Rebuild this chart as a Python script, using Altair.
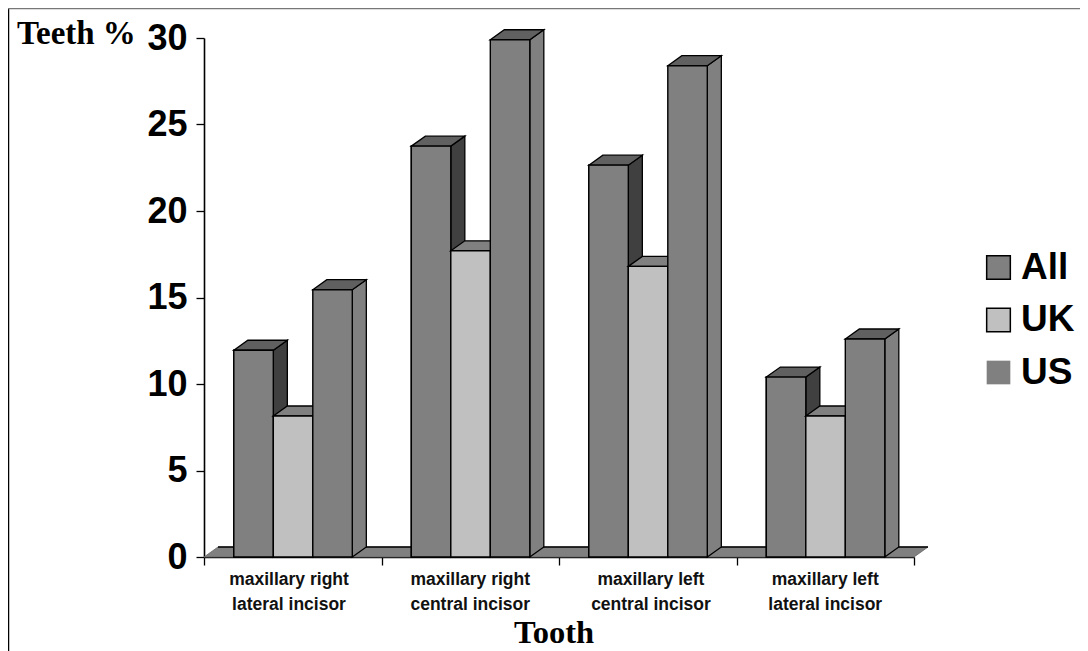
import altair as alt
import pandas as pd

categories = [
    "maxillary right\nlateral incisor",
    "maxillary right\ncentral incisor",
    "maxillary left\ncentral incisor",
    "maxillary left\nlateral incisor",
]
label_positions = [0.479, 1.5, 2.518, 3.5]
series = ["All", "UK", "US"]
all_values = [11.95, 23.75, 22.65, 10.4]
uk_values = [8.15, 17.7, 16.8, 8.15]
us_values = [15.45, 29.9, 28.4, 12.6]
values = {"All": all_values, "UK": uk_values, "US": us_values}
y_ticks = [0, 5, 10, 15, 20, 25, 30]
x_ticks = [0, 1, 2, 3, 4]

front_colors = {"All": "#808080", "UK": "#c0c0c0", "US": "#808080"}
top_colors = {"All": "#606060", "UK": "#808080", "US": "#606060"}
side_colors = {"All": "#404040", "UK": "#606060", "US": "#808080"}

GROUP_GAP = 0.168
BAR_W = 0.2225
DX = 0.079
DY = 0.578

bars, sides, tops = [], [], []
for si, s in enumerate(series):
    for g, v in enumerate(values[s]):
        x0 = g + GROUP_GAP + si * BAR_W
        x1 = x0 + BAR_W
        bars.append(dict(series=s, group=g, x0=x0, x1=x1, v=v, base=0))
        sides += [
            dict(series=s, group=g, x=x1, y=v, y2=0),
            dict(series=s, group=g, x=x1 + DX, y=v + DY, y2=DY),
        ]
        tops += [
            dict(series=s, group=g, x=x0, y=v, y2=v),
            dict(series=s, group=g, x=x0 + DX, y=v + DY, y2=v),
            dict(series=s, group=g, x=x1, y=v + DY, y2=v),
            dict(series=s, group=g, x=x1 + DX, y=v + DY, y2=v + DY),
        ]
bars, sides, tops = pd.DataFrame(bars), pd.DataFrame(sides), pd.DataFrame(tops)

floor = pd.DataFrame(
    [
        dict(x=0, y=0, y2=0),
        dict(x=DX, y=DY, y2=0),
        dict(x=4, y=DY, y2=0),
        dict(x=4 + DX, y=DY, y2=DY),
    ]
)
floor_edge = pd.DataFrame([dict(x0=DX, x1=4 + DX, y=DY)])
labels = pd.DataFrame(dict(x=label_positions, label=categories))

FONT = "Liberation Sans"
SERIF = "Liberation Serif"
x_scale = alt.Scale(domain=[0, 4], range=[0, 710], nice=False, clamp=False)
y_scale = alt.Scale(domain=[0, 30], nice=False, clamp=False)

x_axis = alt.Axis(
    values=x_ticks, labels=False, title=None, grid=False, tickColor="black", domainColor="black",
    tickSize=8, tickWidth=1.3, domainWidth=1.6,
)
y_axis = alt.Axis(
    values=y_ticks, title=None, grid=False, tickColor="black", domainColor="black", tickSize=8,
    tickWidth=1.3, domainWidth=1.6, labelFont=FONT, labelFontSize=36, labelFontWeight="bold",
    labelColor="black", labelPadding=9, format="d",
)
X = alt.X("x:Q", scale=x_scale, axis=x_axis)
Y = alt.Y("y:Q", scale=y_scale, axis=y_axis, stack=None)

base_floor = (
    alt.Chart(floor)
    .mark_area(fill="#808080", stroke="#666666", strokeWidth=0.8, orient="vertical")
    .encode(X, Y, y2="y2:Q")
)
floor_line = (
    alt.Chart(floor_edge)
    .mark_rule(color="black", strokeWidth=1.4)
    .encode(x=alt.X("x0:Q", scale=x_scale, axis=x_axis), x2="x1:Q", y=alt.Y("y:Q", scale=y_scale, axis=y_axis))
)

# Layer underneath the drawn bars that carries the legend
legend_layer = (
    alt.Chart(bars)
    .mark_bar(strokeWidth=1.5)
    .encode(
        x=alt.X("x0:Q", scale=x_scale, axis=x_axis),
        x2="x1:Q",
        y=alt.Y("v:Q", scale=y_scale, axis=y_axis, stack=None),
        y2="base:Q",
        fill=alt.Fill(
            "series:N",
            scale=alt.Scale(domain=series, range=[front_colors[s] for s in series]),
            legend=alt.Legend(
                title=None, orient="none", legendX=776, legendY=211, symbolType="square",
                symbolSize=560, labelFont=FONT, labelFontSize=37, labelFontWeight="bold",
                labelColor="black", rowPadding=14.5, labelOffset=4, symbolStrokeWidth=1.5,
            ),
        ),
        stroke=alt.Stroke(
            "series:N",
            scale=alt.Scale(domain=series, range=["black", "black", "transparent"]),
        ),
    )
)

layers = [base_floor, floor_line, legend_layer]
for s in series:
    layers.append(
        alt.Chart(sides[sides.series == s])
        .mark_area(fill=side_colors[s], stroke="black", strokeWidth=1.3, strokeJoin="miter", orient="vertical")
        .encode(X, Y, y2="y2:Q", detail="group:N")
    )
    layers.append(
        alt.Chart(tops[tops.series == s])
        .mark_area(fill=top_colors[s], stroke="black", strokeWidth=1.3, strokeJoin="miter", orient="vertical")
        .encode(X, Y, y2="y2:Q", detail="group:N")
    )
    layers.append(
        alt.Chart(bars[bars.series == s])
        .mark_bar(fill=front_colors[s], stroke="black", strokeWidth=1.4)
        .encode(
            x=alt.X("x0:Q", scale=x_scale, axis=x_axis),
            x2="x1:Q",
            y=alt.Y("v:Q", scale=y_scale, axis=y_axis, stack=None),
            y2="base:Q",
        )
    )

tick_text = (
    alt.Chart(labels)
    .mark_text(lineBreak="\n", lineHeight=25, font=FONT, fontSize=17.5, fontWeight="bold", color="#111111",
               baseline="alphabetic", align="center")
    .encode(x=alt.X("x:Q", scale=x_scale, axis=x_axis), y=alt.value(547), text="label:N")
)
y_title = (
    alt.Chart(pd.DataFrame({"t": ["Teeth %"]}))
    .mark_text(font=SERIF, fontSize=33, fontWeight="bold", color="black", align="left", baseline="alphabetic")
    .encode(x=alt.value(-187), y=alt.value(6), text="t:N")
)
x_title = (
    alt.Chart(pd.DataFrame({"t": ["Tooth"]}))
    .mark_text(font=SERIF, fontSize=32.5, fontWeight="bold", color="black", align="center", baseline="alphabetic")
    .encode(x=alt.value(350), y=alt.value(605), text="t:N")
)
frame_left = (
    alt.Chart(pd.DataFrame({"a": [0]}))
    .mark_rule(color="black", strokeWidth=1.5)
    .encode(x=alt.value(-195.5), y=alt.value(-30), y2=alt.value(614))
)
frame_top = (
    alt.Chart(pd.DataFrame({"a": [0]}))
    .mark_rule(color="#777777", strokeWidth=1.5)
    .encode(y=alt.value(-29.5), x=alt.value(-196), x2=alt.value(876))
)

chart = (
    alt.layer(*layers, tick_text, y_title, x_title, frame_left, frame_top)
    .resolve_scale(x="shared", y="shared")
    .properties(
        width=710,
        height=519,
        autosize=alt.AutoSizeParams(type="none"),
        padding={"left": 196, "top": 30, "right": 166, "bottom": 94},
    )
    .configure_view(stroke=None)
    .configure_axis(labelOverlap=False)
)
chart.save("out.html", embed_options={"renderer": "svg", "actions": False})
